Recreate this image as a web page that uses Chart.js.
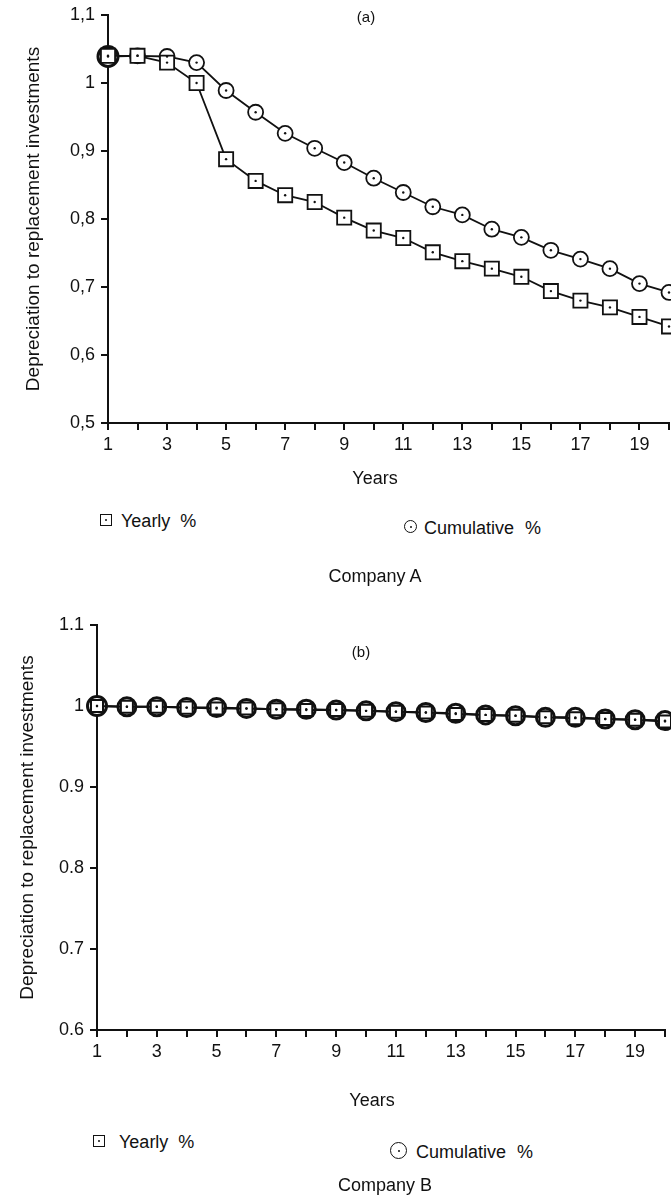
<!DOCTYPE html>
<html>
<head>
<meta charset="utf-8">
<script src="https://cdn.jsdelivr.net/npm/chart.js@4.4.0/dist/chart.umd.min.js"></script>
<style>
  html, body { margin: 0; padding: 0; background: #fff; overflow: hidden; }
  body { width: 671px; height: 1195px; position: relative; font-family: "Liberation Sans", Arial, sans-serif; color: #111; }
  .box { position: absolute; left: 0; width: 671px; }
  .txt { position: absolute; white-space: nowrap; font-size: 18px; line-height: 1; }
  .mid { transform: translateX(-50%); }
  .sq, .ci { position: absolute; box-sizing: border-box; border: 1.5px solid #111; background: #fff; }
  .ci { border-radius: 50%; }
  .sq::after, .ci::after { content: ''; position: absolute; left: 50%; top: 50%; width: 2px; height: 2px; margin: -1px 0 0 -1px; background: #111; border-radius: 50%; }
</style>
</head>
<body>

<div class="box" style="top:0;height:500px"><canvas id="chartA"></canvas></div>
<div class="txt mid" style="left:366px;top:9px;font-size:15px">(a)</div>
<div class="txt mid" style="left:375px;top:469px">Years</div>
<span class="sq" style="left:100px;top:514px;width:12px;height:12px"></span>
<div class="txt" style="left:121px;top:512px;word-spacing:5px">Yearly %</div>
<span class="ci" style="left:404px;top:520px;width:13px;height:13px"></span>
<div class="txt" style="left:424px;top:519px;word-spacing:6px">Cumulative %</div>
<div class="txt mid" style="left:375px;top:567px">Company A</div>

<div class="box" style="top:600px;height:507px"><canvas id="chartB"></canvas></div>
<div class="txt mid" style="left:361px;top:644px;font-size:15px">(b)</div>
<div class="txt mid" style="left:372px;top:1091px">Years</div>
<span class="sq" style="left:93px;top:1135px;width:12px;height:12px"></span>
<div class="txt" style="left:119px;top:1133px;word-spacing:5px">Yearly %</div>
<span class="ci" style="left:390px;top:1142px;width:17px;height:17px"></span>
<div class="txt" style="left:416px;top:1143px;word-spacing:6px">Cumulative %</div>
<div class="txt mid" style="left:385px;top:1176px">Company B</div>

<script>
// years on the x axis, labels only on odd years
const years = [1, 2, 3, 4, 5, 6, 7, 8, 9, 10, 11, 12, 13, 14, 15, 16, 17, 18, 19, 20];
const xLabels = ['1', '', '3', '', '5', '', '7', '', '9', '', '11', '', '13', '', '15', '', '17', '', '19', ''];

// Company A
const yearlyA = [1.04, 1.04, 1.03, 1.00, 0.888, 0.856, 0.835, 0.825, 0.802, 0.783, 0.772, 0.751, 0.738, 0.727, 0.715, 0.694, 0.680, 0.670, 0.656, 0.642];
const cumulativeA = [1.039, 1.040, 1.039, 1.030, 0.989, 0.957, 0.926, 0.904, 0.883, 0.860, 0.839, 0.818, 0.806, 0.785, 0.773, 0.754, 0.741, 0.727, 0.705, 0.692];
const yTicksA = [0.5, 0.6, 0.7, 0.8, 0.9, 1.0, 1.1];
const yLabelsA = ['0,5', '0,6', '0,7', '0,8', '0,9', '1', '1,1'];

// Company B
const yearlyB = [1.000, 0.999, 0.999, 0.998, 0.997, 0.997, 0.996, 0.995, 0.995, 0.994, 0.993, 0.992, 0.990, 0.989, 0.988, 0.986, 0.985, 0.984, 0.983, 0.981];
const cumulativeB = [1.000, 0.999, 0.999, 0.998, 0.998, 0.997, 0.996, 0.996, 0.995, 0.994, 0.993, 0.992, 0.991, 0.989, 0.988, 0.986, 0.986, 0.984, 0.983, 0.982];
const yTicksB = [0.6, 0.7, 0.8, 0.9, 1.0, 1.1];
const yLabelsB = ['0.6', '0.7', '0.8', '0.9', '1', '1.1'];

const ink = '#111';
const yTitle = 'Depreciation to replacement investments';

function pts(arr) {
    return years.map((x, i) => ({ x: x, y: arr[i] }));
}

// small centre dot inside every marker
function dotSet(arr) {
    return {
        data: pts(arr), showLine: false, clip: false,
        pointRadius: 1.2, pointBorderWidth: 0,
        pointBackgroundColor: ink, pointHoverRadius: 1.2
    };
}

function makeChart(id, cfg) {
    let ctx = document.getElementById(id);
    return new Chart(ctx, {
        type: 'line',
        data: {
            datasets: [
                dotSet(cfg.yearly),
                dotSet(cfg.cumulative),
                {
                    label: 'Yearly %',
                    data: pts(cfg.yearly),
                    borderColor: ink, borderWidth: cfg.lineW, tension: 0, clip: false,
                    pointStyle: 'rect', pointRadius: cfg.sqR, pointBorderWidth: cfg.sqW,
                    pointBorderColor: ink, pointBackgroundColor: '#fff'
                },
                {
                    label: 'Cumulative %',
                    data: pts(cfg.cumulative),
                    borderColor: ink, borderWidth: cfg.lineW, tension: 0, clip: false,
                    pointStyle: 'circle',
                    pointRadius: (c) => c.dataIndex === 0 ? cfg.ciR0 : cfg.ciR,
                    pointBorderWidth: (c) => c.dataIndex === 0 ? cfg.ciW0 : cfg.ciW,
                    pointBorderColor: ink, pointBackgroundColor: '#fff'
                }
            ]
        },
        options: {
            responsive: true,
            maintainAspectRatio: false,
            animation: false,
            events: [],
            layout: { padding: cfg.padding, autoPadding: false },
            plugins: { legend: { display: false }, tooltip: { enabled: false } },
            scales: {
                x: {
                    type: 'linear', min: 1, max: 20,
                    afterBuildTicks: (s) => { s.ticks = years.map(v => ({ value: v })); },
                    afterFit: (s) => { s.height = 77; s.paddingLeft = 0; s.paddingRight = 0; },
                    ticks: {
                        autoSkip: false, maxRotation: 0, padding: 4, color: ink,
                        font: { family: 'Liberation Sans', size: 18 },
                        callback: (v, i) => xLabels[i]
                    },
                    grid: { drawOnChartArea: false, tickLength: 7, color: ink, lineWidth: 2 },
                    border: { color: ink, width: 2 }
                },
                y: {
                    min: cfg.yTicks[0], max: cfg.yTicks[cfg.yTicks.length - 1],
                    afterBuildTicks: (s) => { s.ticks = cfg.yTicks.map(v => ({ value: v })); },
                    afterFit: (s) => { s.width = cfg.axisX; s.paddingTop = 0; s.paddingBottom = 0; },
                    ticks: {
                        padding: 6, color: ink,
                        font: { family: 'Liberation Sans', size: 18 },
                        callback: (v, i) => cfg.yLabels[i]
                    },
                    grid: { drawOnChartArea: false, tickLength: 7, color: ink, lineWidth: 2 },
                    border: { color: ink, width: 2 },
                    title: {
                        display: true, text: yTitle, color: ink,
                        font: { family: 'Liberation Sans', size: 19 },
                        padding: { top: cfg.titlePad, bottom: 0 }
                    }
                }
            }
        }
    });
}

makeChart('chartA', {
    yearly: yearlyA, cumulative: cumulativeA,
    yTicks: yTicksA, yLabels: yLabelsA,
    axisX: 108, titlePad: 22,
    padding: { top: 15, right: 2, bottom: 0, left: 0 },
    lineW: 1.8, sqR: 10, sqW: 1.8, ciR: 7.5, ciW: 1.8, ciR0: 10, ciW0: 3
});

makeChart('chartB', {
    yearly: yearlyB, cumulative: cumulativeB,
    yTicks: yTicksB, yLabels: yLabelsB,
    axisX: 97, titlePad: 16,
    padding: { top: 25, right: 6, bottom: 0, left: 0 },
    lineW: 2, sqR: 8.5, sqW: 2, ciR: 9, ciW: 3, ciR0: 9.5, ciW0: 3
});
</script>
</body>
</html>
